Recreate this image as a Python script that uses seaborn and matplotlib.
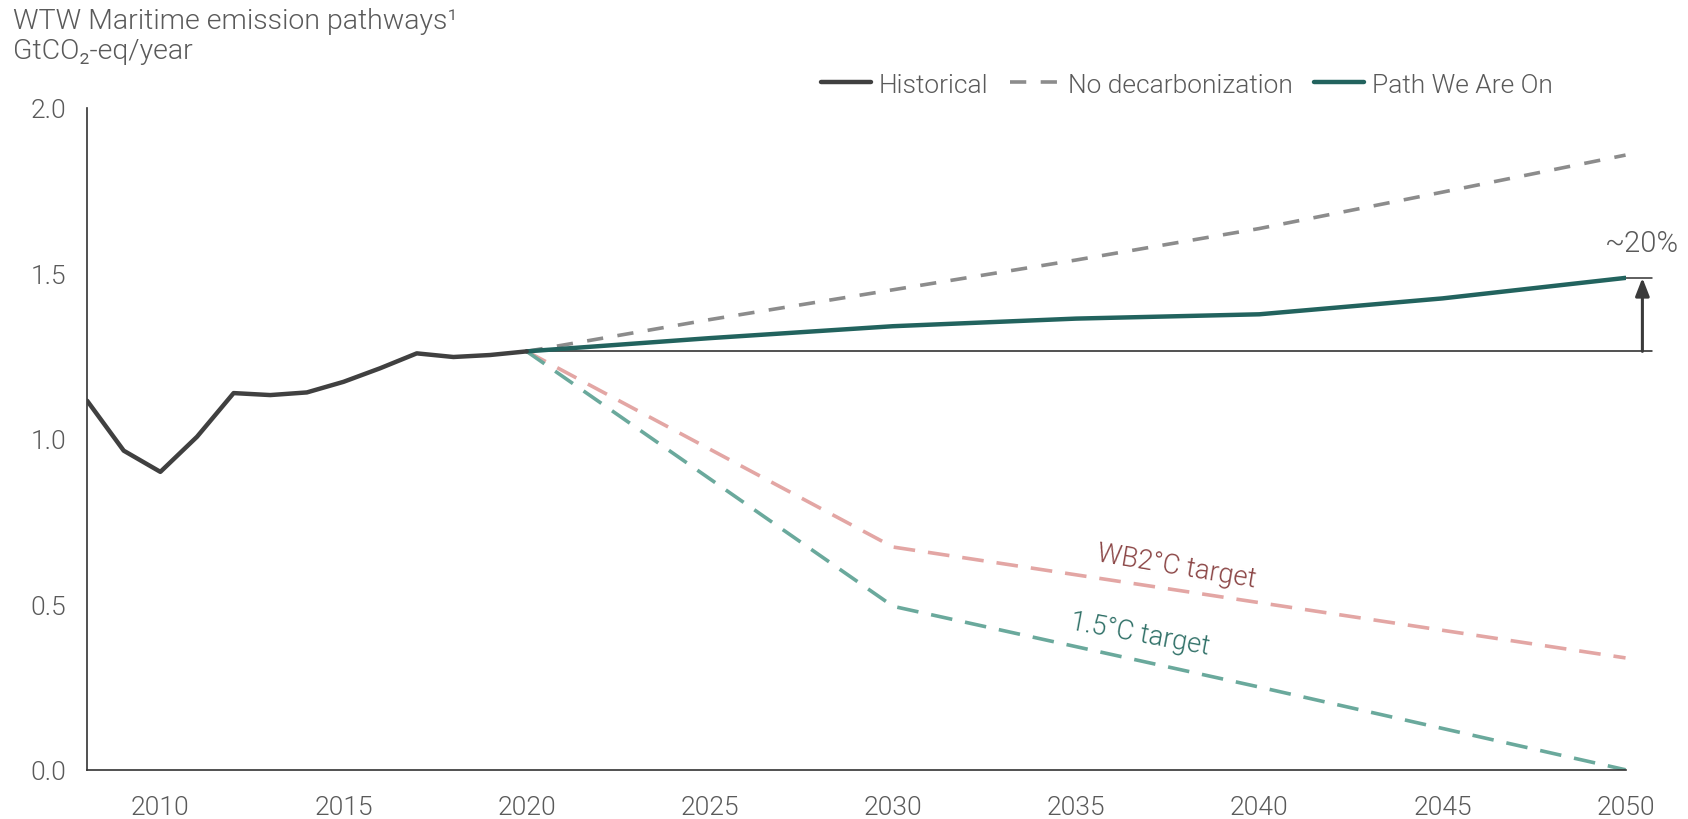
import matplotlib
matplotlib.use("Agg")
import matplotlib.pyplot as plt
import seaborn as sns
import pandas as pd

# Emission series, GtCO2-eq per year
hist_years = [2008, 2009, 2010, 2011, 2012, 2013, 2014, 2015, 2016, 2017, 2018, 2019, 2020]
hist_values = [1.115, 0.964, 0.900, 1.006, 1.138, 1.132, 1.140, 1.172, 1.213, 1.258, 1.247, 1.253, 1.264]

proj_years = [2020, 2025, 2030, 2035, 2040, 2045, 2050]
no_decarb_values = [1.264, 1.360, 1.450, 1.540, 1.635, 1.745, 1.857]
path_values = [1.264, 1.304, 1.340, 1.363, 1.376, 1.424, 1.486]

target_years = [2020, 2030, 2040, 2050]
wb2_values = [1.264, 0.673, 0.505, 0.338]
c15_values = [1.264, 0.494, 0.250, 0.0]

x_ticks = [2010, 2015, 2020, 2025, 2030, 2035, 2040, 2045, 2050]
y_ticks = [0.0, 0.5, 1.0, 1.5, 2.0]

title_text = "WTW Maritime emission pathways¹"
unit_text = "GtCO₂-eq/year"
gap_label = "~20%"

sns.set_theme(style="white")
plt.rcParams["font.family"] = ["Roboto", "DejaVu Sans"]
FW = 300

TEXT = "#5a5a5a"
C_HIST = "#404040"
C_NODEC = "#8c8c8c"
C_PATH = "#22635e"
C_WB2 = "#e3a6a4"
C_15 = "#6aa99c"
FS_TICK = 19
FS_TITLE = 20.5
FS_LEG = 19
FS_NOTE = 19.5

fig = plt.figure(figsize=(16.88, 8.2), dpi=100)
ax = fig.add_axes([0.0516, 0.06, 0.9114, 0.8074])

hist = pd.DataFrame({"year": hist_years, "value": hist_values})
nodec = pd.DataFrame({"year": proj_years, "value": no_decarb_values})
path = pd.DataFrame({"year": proj_years, "value": path_values})
wb2 = pd.DataFrame({"year": target_years, "value": wb2_values})
c15 = pd.DataFrame({"year": target_years, "value": c15_values})

sns.lineplot(data=wb2, x="year", y="value", ax=ax, color=C_WB2, lw=2.6,
             zorder=2).lines[-1].set_dashes((6, 3.6))
sns.lineplot(data=c15, x="year", y="value", ax=ax, color=C_15, lw=2.6,
             zorder=2).lines[-1].set_dashes((6, 3.6))
sns.lineplot(data=nodec, x="year", y="value", ax=ax, color=C_NODEC, lw=2.6,
             zorder=3, label="No decarbonization").lines[-1].set_dashes((4.5, 4))

# baseline at the 2020 level with the gap arrow
base = hist_values[-1]
ax.plot([2020, 2050.72], [base, base], color="#222222", lw=1.1, zorder=3,
        clip_on=False)
ax.plot([2050.02, 2050.72], [path_values[-1], path_values[-1]], color="#333333",
        lw=1.1, zorder=3, clip_on=False)
ax.annotate("", xy=(2050.46, path_values[-1]), xytext=(2050.46, base),
            arrowprops=dict(arrowstyle="-|>,head_length=0.9,head_width=0.35",
                            color="#3a3a3a", lw=2.2, shrinkA=0, shrinkB=0),
            annotation_clip=False, zorder=4)
ax.text(2050.46, 1.592, gap_label, ha="center", va="center", fontsize=21,
        color=TEXT, fontweight=FW)

sns.lineplot(data=path, x="year", y="value", ax=ax, color=C_PATH, lw=3.2,
             zorder=5, label="Path We Are On")
sns.lineplot(data=hist, x="year", y="value", ax=ax, color=C_HIST, lw=3.2,
             zorder=6, label="Historical")

ax.text(2037.75, 0.616, "WB2°C target", ha="center", va="center",
        rotation=-9.5, fontsize=FS_NOTE, color="#8a4444", fontweight=FW)
ax.text(2036.75, 0.41, "1.5°C target", ha="center", va="center",
        rotation=-10.5, fontsize=FS_NOTE, color="#2e6f66", fontweight=FW)

ax.set_xlim(2008, 2050)
ax.set_ylim(0, 2.0)
ax.set_xticks(x_ticks)
ax.set_yticks(y_ticks)
ax.set_yticklabels([f"{v:.1f}" for v in y_ticks])
ax.set_xlabel("")
ax.set_ylabel("")
for side in ("top", "right"):
    ax.spines[side].set_visible(False)
for side in ("left", "bottom"):
    ax.spines[side].set_color("#333333")
    ax.spines[side].set_linewidth(1.2)
ax.tick_params(axis="both", which="both", direction="out", length=9, width=1.1,
               color="#333333", labelsize=FS_TICK, labelcolor=TEXT, pad=6)
ax.tick_params(axis="x", pad=9)
for lbl in ax.get_xticklabels() + ax.get_yticklabels():
    lbl.set_fontweight(FW)

handles, labels = ax.get_legend_handles_labels()
order = [labels.index(n) for n in ("Historical", "No decarbonization", "Path We Are On")]
leg = ax.legend([handles[i] for i in order], [labels[i] for i in order],
                loc="lower right", bbox_to_anchor=(0.962, 0.995), ncol=3,
                frameon=False, fontsize=FS_LEG, handlelength=1.9,
                handletextpad=0.3, columnspacing=0.8, borderaxespad=0.15)
for t in leg.get_texts():
    t.set_color(TEXT)
    t.set_fontweight(FW)

fig.text(0.0077, 0.974, title_text, ha="left", va="center", fontsize=FS_TITLE,
         color=TEXT, fontweight=FW)
fig.text(0.0077, 0.937, unit_text, ha="left", va="center", fontsize=FS_TITLE,
         color=TEXT, fontweight=FW)

fig.savefig("out.png", dpi=100, facecolor="white")
